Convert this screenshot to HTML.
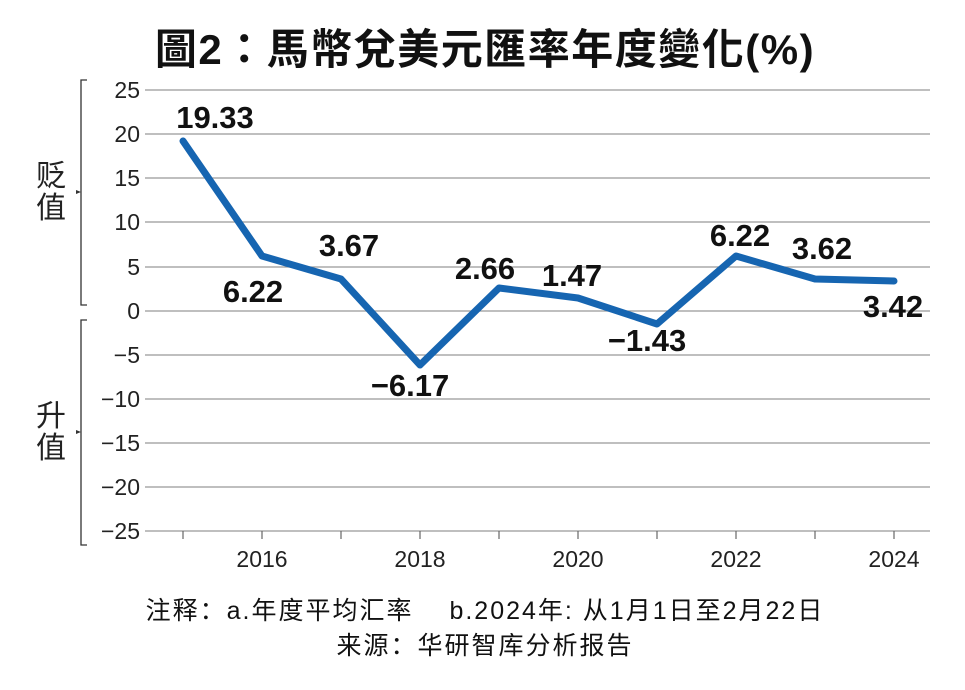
<!DOCTYPE html>
<html><head><meta charset="utf-8"><style>
html,body{margin:0;padding:0;background:#fff;}
svg{display:block;}
</style></head><body>
<svg width="965" height="690" xmlns="http://www.w3.org/2000/svg">
<rect width="965" height="690" fill="#fff"/>
<text x="485" y="64" text-anchor="middle" font-family="Liberation Sans, Noto Sans CJK TC, sans-serif" font-weight="bold" font-size="42" letter-spacing="1.5" fill="#111">圖2：馬幣兌美元匯率年度變化(%)</text>
<g stroke="#999" stroke-width="1.3">
<line x1="145" x2="930" y1="90" y2="90"/>
<line x1="145" x2="930" y1="134" y2="134"/>
<line x1="145" x2="930" y1="178" y2="178"/>
<line x1="145" x2="930" y1="222" y2="222"/>
<line x1="145" x2="930" y1="267" y2="267"/>
<line x1="145" x2="930" y1="311" y2="311"/>
<line x1="145" x2="930" y1="355" y2="355"/>
<line x1="145" x2="930" y1="399" y2="399"/>
<line x1="145" x2="930" y1="443" y2="443"/>
<line x1="145" x2="930" y1="487" y2="487"/>
<line x1="145" x2="930" y1="531" y2="531"/>
</g>
<g stroke="#666" stroke-width="1.2">
<line x1="183" x2="183" y1="531" y2="539"/><line x1="262" x2="262" y1="531" y2="539"/><line x1="341" x2="341" y1="531" y2="539"/><line x1="420" x2="420" y1="531" y2="539"/><line x1="499" x2="499" y1="531" y2="539"/><line x1="578" x2="578" y1="531" y2="539"/><line x1="657" x2="657" y1="531" y2="539"/><line x1="736" x2="736" y1="531" y2="539"/><line x1="815" x2="815" y1="531" y2="539"/><line x1="894" x2="894" y1="531" y2="539"/>
</g>
<g font-family="Liberation Sans, sans-serif" font-size="23" fill="#222" text-anchor="end">
<text x="140" y="98">25</text><text x="140" y="142">20</text><text x="140" y="186">15</text><text x="140" y="230">10</text><text x="140" y="275">5</text><text x="140" y="319">0</text><text x="140" y="363">−5</text><text x="140" y="407">−10</text><text x="140" y="451">−15</text><text x="140" y="495">−20</text><text x="140" y="539">−25</text>
</g>
<g font-family="Liberation Sans, sans-serif" font-size="23" fill="#222" text-anchor="middle">
<text x="262" y="567">2016</text><text x="420" y="567">2018</text><text x="578" y="567">2020</text><text x="736" y="567">2022</text><text x="894" y="567">2024</text>
</g>
<g stroke="#333" stroke-width="1.3" fill="none">
<path d="M87 80 H81 V305 H87"/>
<path d="M87 320 H81 V545 H87"/>
</g>
<path d="M81 192 l-5 -2 v4z M81 432 l-5 -2 v4z" fill="#333"/>
<g font-family="Noto Sans CJK SC, sans-serif" font-size="30" fill="#222" text-anchor="middle">
<text x="51" y="186">贬</text><text x="51" y="218">值</text>
<text x="51" y="426">升</text><text x="51" y="458">值</text>
</g>
<polyline points="183,141 262,256 341,279 420,365 499,288 578,298 657,324 736,256 815,279 894,281" fill="none" stroke="#1665b1" stroke-width="7" stroke-linejoin="round" stroke-linecap="round"/>
<g font-family="Liberation Sans, sans-serif" font-weight="bold" font-size="31" fill="#111" text-anchor="middle">
<text x="215" y="128">19.33</text>
<text x="253" y="302">6.22</text>
<text x="349" y="256">3.67</text>
<text x="410" y="396">−6.17</text>
<text x="485" y="279">2.66</text>
<text x="572" y="286">1.47</text>
<text x="647" y="351">−1.43</text>
<text x="740" y="246">6.22</text>
<text x="822" y="259">3.62</text>
<text x="893" y="317">3.42</text>
</g>
<g font-family="Liberation Sans, Noto Sans CJK SC, sans-serif" font-size="25" fill="#111" text-anchor="middle">
<text x="485" y="619" letter-spacing="2">注释：a.年度平均汇率　 b.2024年: 从1月1日至2月22日</text>
<text x="485" y="654" letter-spacing="2">来源：华研智库分析报告</text>
</g>
</svg>
</body></html>
